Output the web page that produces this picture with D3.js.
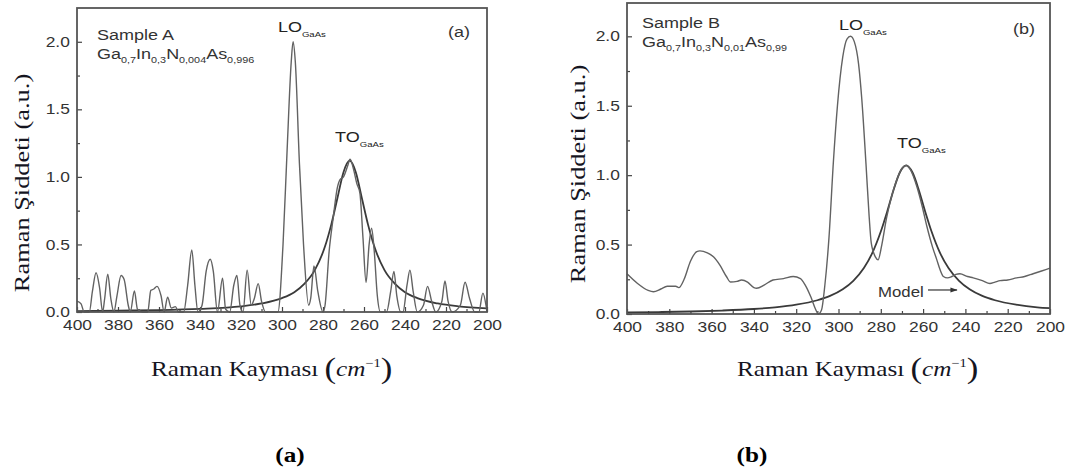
<!DOCTYPE html>
<html>
<head>
<meta charset="utf-8">
<script src="https://cdn.jsdelivr.net/npm/d3@7"></script>
<style>
  body { margin: 0; background: #fff; }
  svg { display: block; }
</style>
</head>
<body>
<svg id="chart" width="1075" height="475"></svg>
<script>
// measured Raman spectra, [shift cm-1, intensity a.u.]
const spectrumA = [[400,0.08],[398,0.06],[396.5,0],[394,0],[392.5,0.15],[390.7,0.29],[389,0.18],[387.5,0],[386.5,0.1],[385,0.28],[383.5,0.1],[382,0],[380.5,0.12],[378.5,0.27],[377,0.24],[375,0.05],[374,0],[372,0.155],[370.5,0.02],[368,0],[365.5,0],[364,0.16],[362.5,0.17],[361,0.19],[359,0.12],[357.5,0],[355.8,0.11],[354,0.03],[352,0.04],[350.5,0],[348,0],[346,0.2],[344,0.46],[342.5,0.2],[341,0],[339,0.05],[337,0.3],[335,0.39],[333.5,0.3],[331.5,0],[329,0.25],[327.5,0.02],[325.5,0],[323.5,0.2],[322,0.27],[320.5,0.05],[319,0],[317,0.31],[315,0.05],[313.5,0.1],[311.6,0.21],[310,0.08],[308,0],[302,0],[299.5,0.5],[297.5,1.2],[295.5,1.85],[294.6,2.0],[293.5,1.85],[291.5,1.1],[289.5,0.5],[287,0.05],[286,0.1],[284.4,0.34],[282.5,0.15],[280,0],[279,0.05],[277,0.45],[275,0.7],[273,0.92],[271.7,0.98],[270,1.0],[268,1.08],[266.8,1.13],[265,1.05],[263.5,0.95],[262,0.88],[260.5,0.55],[259,0.22],[257.5,0.5],[256.3,0.62],[255,0.45],[253.5,0.12],[252,0],[249,0],[247,0.15],[245.4,0.3],[244,0.12],[242,0],[241,0],[239,0.2],[237.6,0.31],[236,0.15],[234,0],[231,0.05],[229,0.19],[227,0.08],[225,0],[222,0.08],[220.5,0.23],[219,0.08],[217,0],[213,0.05],[210.7,0.22],[208.5,0.1],[206,0],[204,0],[202,0.14],[200.5,0.05],[200,0]];
const modelA = [[400,0.007],[380,0.01],[360,0.014],[340,0.023],[320,0.042],[310,0.063],[300,0.103],[294,0.147],[289,0.21],[284,0.31],[279,0.486],[276,0.645],[273,0.84],[270,1.035],[267,1.12],[264,1.035],[261,0.84],[258,0.645],[255,0.486],[250,0.31],[245,0.21],[240,0.147],[234,0.103],[224,0.063],[214,0.042],[200,0.027]];

const spectrumB = [[400,0.29],[395,0.22],[390,0.17],[387.5,0.16],[384,0.18],[381,0.2],[377,0.2],[375.5,0.19],[373,0.25],[370,0.38],[367,0.45],[365.5,0.455],[362,0.44],[359,0.41],[356,0.35],[353,0.27],[351,0.23],[348,0.235],[345.8,0.245],[343,0.23],[340,0.19],[338.7,0.185],[335,0.21],[331,0.245],[326,0.255],[321.4,0.27],[318,0.255],[315.8,0.21],[313,0.12],[311,0.04],[309.5,0],[308,0.03],[306.5,0.2],[304.5,0.55],[302.4,1.1],[300.5,1.5],[298,1.85],[296,1.98],[294.3,2.0],[292.5,1.96],[290.5,1.8],[289,1.55],[287,1.08],[285.5,0.7],[284.5,0.51],[282.5,0.41],[281.3,0.39],[279.5,0.5],[277.3,0.69],[274.5,0.87],[272.6,0.96],[270,1.05],[268,1.07],[266,1.04],[263,0.92],[260.5,0.78],[258.2,0.63],[255.5,0.48],[253.5,0.39],[252,0.32],[250.4,0.27],[248.5,0.26],[246.4,0.27],[244.5,0.285],[242.6,0.29],[239,0.27],[236.3,0.26],[232,0.24],[228.4,0.22],[226,0.23],[223.6,0.24],[220,0.245],[215.8,0.26],[212,0.27],[208,0.29],[204,0.31],[200,0.33]];
const modelB = [[400,0.011],[385,0.0139],[370,0.018],[355,0.025],[340,0.036],[330,0.048],[320,0.067],[310,0.099],[304,0.13],[298,0.178],[293,0.239],[288,0.331],[284,0.44],[280,0.594],[277,0.737],[274,0.892],[271,1.019],[268,1.07],[265,1.019],[262,0.892],[259,0.737],[256,0.594],[252,0.44],[248,0.331],[243,0.239],[238,0.178],[232,0.13],[226,0.099],[216,0.067],[206,0.048],[200,0.042]];

// axis ticks
const xMajorTicks = [400, 380, 360, 340, 320, 300, 280, 260, 240, 220, 200];
const xMinorTicks = [390, 370, 350, 330, 310, 290, 270, 250, 230, 210];
const yMajorTicks = [0, 0.5, 1.0, 1.5, 2.0];
const yMinorTicks = [0.25, 0.75, 1.25, 1.75];

// labels
const formulaA = [["Ga", 0], ["0,7", 1], ["In", 0], ["0,3", 1], ["N", 0], ["0,004", 1], ["As", 0], ["0,996", 1]];
const formulaB = [["Ga", 0], ["0,7", 1], ["In", 0], ["0,3", 1], ["N", 0], ["0,01", 1], ["As", 0], ["0,99", 1]];
const yTitle = "Raman Şiddeti (a.u.)";
const xTitle = "Raman Kayması";

const SANS = "'Liberation Sans', Arial, sans-serif";
const SERIF = "'Liberation Serif', 'Times New Roman', serif";
const STRETCH = 1.2;

const svg = d3.select("#chart");
svg.append("rect").attr("width", 1075).attr("height", 475).attr("fill", "#fff");

svg.append("defs").append("marker")
    .attr("id", "arrow")
    .attr("viewBox", "0 0 10 10")
    .attr("refX", 9).attr("refY", 5)
    .attr("markerWidth", 6).attr("markerHeight", 6)
    .attr("orient", "auto")
    .append("path")
    .attr("d", "M0,1.5 L10,5 L0,8.5 Z")
    .attr("fill", "#333");

// text placed at x,y and stretched sideways like the scanned figure
function stretchedText(parent, x, y, size, family, anchor) {
    return parent.append("g")
        .attr("transform", `translate(${x},${y}) scale(${STRETCH},1)`)
        .append("text")
        .attr("font-family", family)
        .attr("font-size", size)
        .attr("text-anchor", anchor || "start");
}

// main text + subscripts
function withSubs(textSel, parts, subSize, shift) {
    let down = false;
    parts.forEach(([s, isSub]) => {
        const t = textSel.append("tspan").text(s);
        if (isSub && !down) { t.attr("dy", shift).attr("font-size", subSize); down = true; }
        else if (isSub) { t.attr("font-size", subSize); }
        else if (down) { t.attr("dy", -shift); down = false; }
    });
}

function drawPanel(cfg) {
    const x = d3.scaleLinear().domain([400, 200]).range([cfg.left, cfg.right]);
    const y = d3.scaleLinear().domain([0, cfg.yMax]).range([cfg.bottom, cfg.top]);
    const g = svg.append("g");

    // x axis (ticks pointing in)
    const xAxis = g.append("g")
        .attr("transform", `translate(0,${cfg.bottom})`)
        .call(d3.axisBottom(x).tickValues(xMajorTicks).tickSize(-5).tickPadding(8).tickFormat(d3.format("d")));
    g.append("g")
        .attr("transform", `translate(0,${cfg.bottom})`)
        .call(d3.axisBottom(x).tickValues(xMinorTicks).tickSize(-3).tickFormat(""));

    const yAxis = g.append("g")
        .attr("transform", `translate(${cfg.left},0)`)
        .call(d3.axisLeft(y).tickValues(yMajorTicks).tickSize(-5).tickPadding(6).tickFormat(d3.format(".1f")));
    g.append("g")
        .attr("transform", `translate(${cfg.left},0)`)
        .call(d3.axisLeft(y).tickValues(yMinorTicks).tickSize(-3).tickFormat(""));

    g.selectAll(".domain").remove();
    g.selectAll(".tick line").attr("stroke", "#444").attr("stroke-width", 1.2);
    g.selectAll(".tick text")
        .attr("font-family", SANS)
        .attr("font-size", 14.5)
        .attr("fill", "#333")
        .attr("transform", `scale(${STRETCH},1)`);

    // curves
    const line = d3.line()
        .x(d => x(d[0]))
        .y(d => y(d[1]))
        .curve(d3.curveMonotoneX);

    g.append("path")
        .datum(cfg.model)
        .attr("d", line)
        .attr("fill", "none")
        .attr("stroke", "#3a3a3a")
        .attr("stroke-width", 1.8);

    g.append("path")
        .datum(cfg.spectrum)
        .attr("d", line)
        .attr("fill", "none")
        .attr("stroke", "#626262")
        .attr("stroke-width", 1.4);

    // frame
    g.append("rect")
        .attr("x", cfg.left).attr("y", cfg.top)
        .attr("width", cfg.right - cfg.left).attr("height", cfg.bottom - cfg.top)
        .attr("fill", "none")
        .attr("stroke", "#555")
        .attr("stroke-width", 1.8);

    // annotations
    stretchedText(g, x(cfg.sampleAt[0]), y(cfg.sampleAt[1]), 15, SANS).attr("fill", "#333").text(cfg.sample);
    withSubs(stretchedText(g, x(cfg.sampleAt[0]), y(cfg.sampleAt[1]) + 19, 15, SANS).attr("fill", "#333"),
        cfg.formula, 9, 4);
    stretchedText(g, x(cfg.tagAt[0]), y(cfg.tagAt[1]), 15, SANS).attr("fill", "#333").text(cfg.tag);
    withSubs(stretchedText(g, x(cfg.loAt[0]), y(cfg.loAt[1]), 15, SANS).attr("fill", "#222"),
        [["LO", 0], ["GaAs", 1]], 8, 5);
    withSubs(stretchedText(g, x(cfg.toAt[0]), y(cfg.toAt[1]), 15, SANS).attr("fill", "#222"),
        [["TO", 0], ["GaAs", 1]], 8, 5);

    if (cfg.modelLabel) {
        stretchedText(g, x(cfg.modelLabel.at[0]), y(cfg.modelLabel.at[1]), 14, SANS).attr("fill", "#333").text("Model");
        g.append("line")
            .attr("x1", x(cfg.modelLabel.from[0])).attr("y1", y(cfg.modelLabel.from[1]))
            .attr("x2", x(cfg.modelLabel.to[0])).attr("y2", y(cfg.modelLabel.to[1]))
            .attr("stroke", "#333").attr("stroke-width", 1.2)
            .attr("marker-end", "url(#arrow)");
    }

    // y title
    svg.append("g")
        .attr("transform", `translate(${cfg.yTitleX},${cfg.yTitleY}) rotate(-90) scale(${STRETCH},1)`)
        .append("text")
        .attr("font-family", SERIF).attr("font-size", 22)
        .attr("fill", "#15151f")
        .attr("text-anchor", "middle")
        .text(yTitle);

    // x title with unit
    const xt = stretchedText(svg, cfg.xTitleX, 376, 21, SERIF).attr("fill", "#15151f");
    xt.append("tspan").text(xTitle + " ");
    xt.append("tspan").attr("font-size", 29).attr("font-weight", 300).attr("dy", 2).text(" (");
    xt.append("tspan").attr("font-style", "italic").attr("dy", -2).text("cm");
    xt.append("tspan").attr("font-size", 12).attr("dy", -9).text("−1");
    xt.append("tspan").attr("font-size", 29).attr("font-weight", 300).attr("dy", 11).text(")");

    // caption
    stretchedText(svg, cfg.captionX, 462, 21, SERIF, "middle")
        .attr("font-weight", "bold").attr("fill", "#000").text(cfg.caption);
}

drawPanel({
    left: 77, right: 487, top: 8, bottom: 312, yMax: 2.25,
    spectrum: spectrumA, model: modelA,
    sample: "Sample A", formula: formulaA, sampleAt: [390.2, 2.015],
    tag: "(a)", tagAt: [219, 2.037],
    loAt: [302, 2.07], toAt: [274.1, 1.26],
    yTitleX: 29, yTitleY: 183, xTitleX: 151, captionX: 290, caption: "(a)"
});

drawPanel({
    left: 627, right: 1050, top: 3, bottom: 314, yMax: 2.24,
    spectrum: spectrumB, model: modelB,
    sample: "Sample B", formula: formulaB, sampleAt: [392.9, 2.058],
    tag: "(b)", tagAt: [217.5, 2.02],
    loAt: [299.8, 2.043], toAt: [272.3, 1.194],
    modelLabel: { at: [281.3, 0.122], from: [257.7, 0.173], to: [244, 0.173] },
    yTitleX: 585, yTitleY: 174, xTitleX: 737, captionX: 752, caption: "(b)"
});
</script>
</body>
</html>
